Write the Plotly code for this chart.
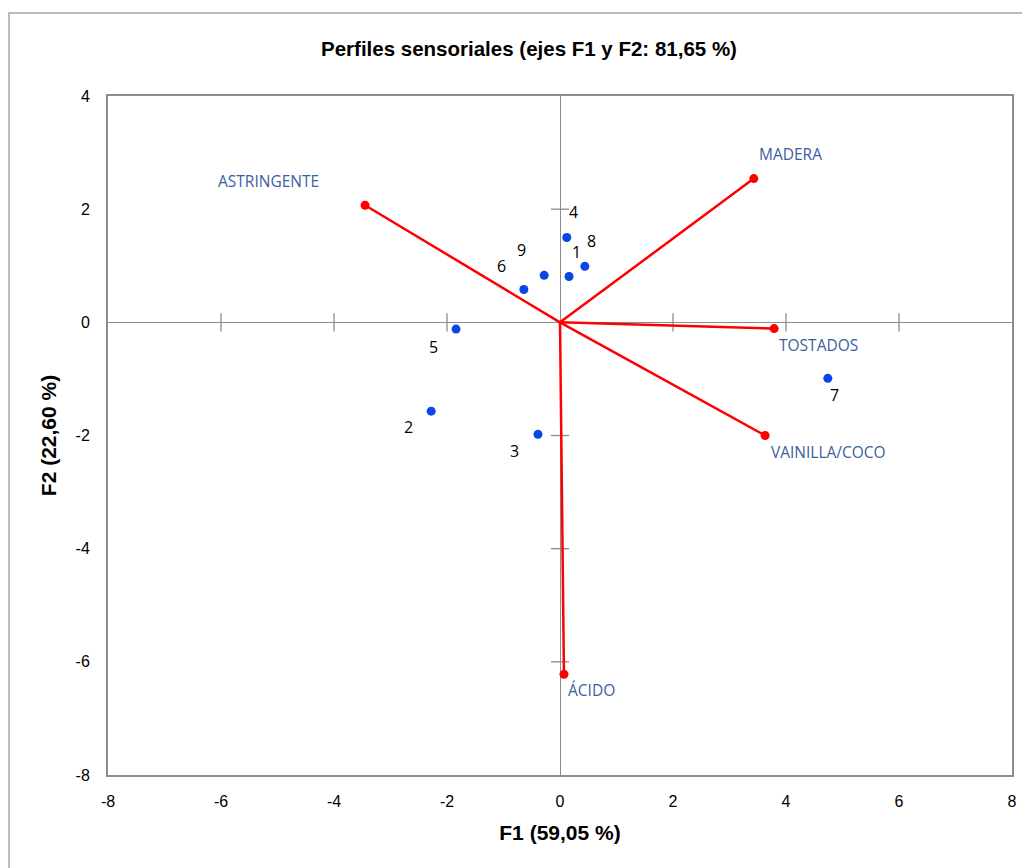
import plotly.graph_objects as go

# Observations (product scores)
obs_labels = ["1", "2", "3", "4", "5", "6", "7", "8", "9"]
obs_f1 = [0.16, -2.28, -0.39, 0.12, -1.84, -0.64, 4.74, 0.44, -0.28]
obs_f2 = [0.81, -1.57, -1.98, 1.50, -0.12, 0.58, -0.99, 0.99, 0.83]

# Variables (loadings, scaled)
var_labels = ["ASTRINGENTE", "MADERA", "TOSTADOS", "VAINILLA/COCO", "ÁCIDO"]
var_f1 = [-3.45, 3.43, 3.79, 3.63, 0.07]
var_f2 = [2.07, 2.54, -0.11, -2.00, -6.22]

x_ticks = [-8, -6, -4, -2, 0, 2, 4, 6, 8]
y_ticks = [-8, -6, -4, -2, 0, 2, 4]

# label pixel offsets (style)
obs_shift = {"1": (7, 25), "2": (-23, -16), "3": (-23, -17), "4": (7, 25), "5": (-23, -18),
             "6": (-22, 24), "7": (7, -17), "8": (7, 25), "9": (-23, 25)}
var_shift = {"ASTRINGENTE": (-97, 24), "MADERA": (37, 25), "TOSTADOS": (44, -16),
             "VAINILLA/COCO": (63, -16), "ÁCIDO": (28, -16)}

FONT = "Liberation Sans Narrow, Liberation Sans, Arial, sans-serif"
LBL_FONT = "Open Sans, Liberation Sans, sans-serif"
BLUE_TXT = "#3b5ea1"
GREY = "#8c8c8c"

# page body has an 8px margin: figure is drawn from (8, 8)
W, H = 1022, 860
L, T, R, B = 100, 88, 18, 93
PW, PH = W - L - R, H - T - B

fig = go.Figure()

# crossing tick marks on the zero axes
xt = [t for t in x_ticks if t not in (0, x_ticks[0], x_ticks[-1])]
yt = [t for t in y_ticks if t not in (0, y_ticks[0], y_ticks[-1])]
fig.add_trace(go.Scatter(x=xt, y=[0] * len(xt), mode="markers",
                         marker=dict(symbol="line-ns-open", size=13, color=GREY, line=dict(color=GREY, width=1.3)),
                         hoverinfo="skip", showlegend=False))
fig.add_trace(go.Scatter(x=[0] * len(yt), y=yt, mode="markers",
                         marker=dict(symbol="line-ew-open", size=13, color=GREY, line=dict(color=GREY, width=1.3)),
                         hoverinfo="skip", showlegend=False))

# vectors
lx, ly = [], []
for a, b in zip(var_f1, var_f2):
    lx += [0, a, None]
    ly += [0, b, None]
fig.add_trace(go.Scatter(x=lx, y=ly, mode="lines", line=dict(color="#ff0000", width=2.5),
                         hoverinfo="skip", showlegend=False))
fig.add_trace(go.Scatter(x=var_f1, y=var_f2, mode="markers",
                         marker=dict(color="#ff0000", size=9), showlegend=False))

# observations
fig.add_trace(go.Scatter(x=obs_f1, y=obs_f2, mode="markers",
                         marker=dict(color="#0a46e6", size=9), showlegend=False))

annotations = []
for lab, a, b in zip(obs_labels, obs_f1, obs_f2):
    dx, dy = obs_shift[lab]
    annotations.append(dict(x=a, y=b, text=lab, showarrow=False, xshift=dx, yshift=dy,
                            font=dict(family=LBL_FONT, size=16, color="#000000")))
for lab, a, b in zip(var_labels, var_f1, var_f2):
    dx, dy = var_shift[lab]
    annotations.append(dict(x=a, y=b, text=lab, showarrow=False, xshift=dx, yshift=dy,
                            font=dict(family=LBL_FONT, size=15.5, color=BLUE_TXT)))

fig.update_layout(
    width=W, height=H,
    margin=dict(l=L, r=R, t=T, b=B, autoexpand=False),
    paper_bgcolor="white", plot_bgcolor="white",
    title=dict(text="<b>Perfiles sensoriales (ejes F1 y F2: 81,65 %)</b>", x=521 / W, xanchor="center",
               y=1 - 41 / H, yanchor="middle",
               font=dict(family=FONT, size=20.5, color="#000000")),
    xaxis=dict(range=[-8, 8], tickvals=x_ticks, ticktext=[str(t) for t in x_ticks],
               showgrid=False, zeroline=True, zerolinecolor=GREY, zerolinewidth=1.3,
               showline=True, linecolor=GREY, linewidth=2, mirror=True, ticks="", automargin=False,
               ticklabelstandoff=11,
               tickfont=dict(family=FONT, size=16, color="#000000"),
               title=dict(text="<b>F1 (59,05 %)</b>", font=dict(family=FONT, size=21, color="#000000"), standoff=16)),
    yaxis=dict(range=[-8, 4], tickvals=y_ticks, ticktext=[str(t) for t in y_ticks],
               showgrid=False, zeroline=True, zerolinecolor=GREY, zerolinewidth=1.3,
               showline=True, linecolor=GREY, linewidth=2, mirror=True, ticks="", automargin=False,
               ticklabelstandoff=13,
               tickfont=dict(family=FONT, size=16, color="#000000"),
               title=dict(text="<b>F2 (22,60 %)</b>", font=dict(family=FONT, size=21, color="#000000"), standoff=13)),
    annotations=annotations,
    shapes=[dict(type="rect", xref="paper", yref="paper",
                 x0=(1 - L) / PW, x1=(W + 20 - L) / PW,
                 y0=-(B + 20) / PH, y1=(PH + T - 5) / PH,
                 line=dict(color="#a6a6a6", width=1.5), layer="below")],
)

fig.write_html("out.html")
